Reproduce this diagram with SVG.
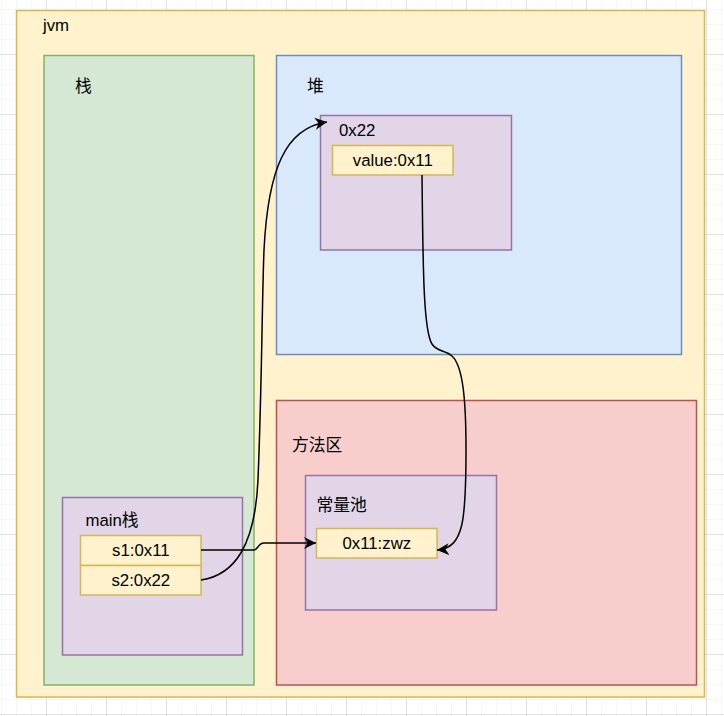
<svg xmlns="http://www.w3.org/2000/svg" width="724" height="716" viewBox="0 0 724 716">
<defs>
<pattern id="minor" x="1" y="9" width="15" height="15" patternUnits="userSpaceOnUse">
<path d="M0,0 H15 M0,0 V15" fill="none" stroke="#f0f0f0" stroke-width="1"/>
</pattern>
<pattern id="major" x="46" y="54" width="60" height="60" patternUnits="userSpaceOnUse">
<path d="M0,0 H60 M0,0 V60" fill="none" stroke="#d0d0d0" stroke-width="1"/>
</pattern>
<marker id="arr" markerUnits="userSpaceOnUse" markerWidth="13" markerHeight="13" refX="12" refY="6" orient="auto" viewBox="0 0 13 12">
<path d="M0,0 L12,6 L0,12 L3.5,6 Z" fill="#000"/>
</marker>
<style>
.t{font-family:"Liberation Sans","Noto Sans CJK SC",sans-serif;font-size:16.8px;fill:#000}
.c{text-anchor:middle}
.jvm{fill:#fff2cc;stroke:#d6b656;stroke-width:1.5}
.green{fill:#d5e8d4;stroke:#82b366;stroke-width:1.5}
.blue{fill:#dae8fc;stroke:#6c8ebf;stroke-width:1.5}
.red{fill:#f8cecc;stroke:#b85450;stroke-width:1.5}
.purple{fill:#e1d5e7;stroke:#9673a6;stroke-width:1.5}
.cell{fill:#fff2cc;stroke:#d6b656;stroke-width:1.5}
.edge{fill:none;stroke:#000;stroke-width:1.5;marker-end:url(#arr)}
</style>
</defs>
<rect width="724" height="716" fill="#fff"/>
<rect width="724" height="716" fill="url(#minor)"/>
<rect width="724" height="716" fill="url(#major)"/>

<g id="jvm">
<rect class="jvm" x="16.5" y="10.5" width="688" height="686.5"/>
<text class="t" x="43" y="31">jvm</text>
</g>
<g id="stack">
<rect class="green" x="44" y="55.5" width="210" height="629.5"/>
<text class="t" x="75" y="91.5">栈</text>
</g>
<g id="heap">
<rect class="blue" x="276.5" y="55.5" width="405" height="299"/>
<text class="t" x="307" y="91.5">堆</text>
</g>
<g id="method-area">
<rect class="red" x="276.5" y="400.5" width="420" height="284.5"/>
<text class="t" x="292" y="451">方法区</text>
</g>
<g id="obj-0x22">
<rect class="purple" x="320.5" y="115.5" width="191" height="134.5"/>
<text class="t" x="339" y="135.5">0x22</text>
</g>
<g id="value">
<rect class="cell" x="332.5" y="145.5" width="120.5" height="29.5"/>
<text class="t c" x="392.8" y="166">value:0x11</text>
</g>
<g id="const-pool">
<rect class="purple" x="305.5" y="475.5" width="191" height="134.5"/>
<text class="t" x="316.5" y="511">常量池</text>
</g>
<g id="zwz">
<rect class="cell" x="316.5" y="528.5" width="120.5" height="29.5"/>
<text class="t c" x="376.8" y="549">0x11:zwz</text>
</g>
<g id="main-stack">
<rect class="purple" x="62.5" y="497.5" width="180" height="157.5"/>
<text class="t" x="85.5" y="526">main栈</text>
</g>
<g id="s1">
<rect class="cell" x="80.5" y="535.5" width="120.5" height="30"/>
<text class="t c" x="140.8" y="556">s1:0x11</text>
</g>
<g id="s2">
<rect class="cell" x="80.5" y="565.5" width="120.5" height="29.5"/>
<text class="t c" x="140.8" y="586">s2:0x22</text>
</g>

<g id="connectors">
<path class="edge" d="M201,550 L254,550 C258,550 258,543 264,543 L316,543"/>
<path class="edge" d="M201,580 C235,575 255,545 258,480 C262,380 262,300 264,250 C268,170 285,128 327,122"/>
<path class="edge" d="M422,175 C423,260 423,330 432,344 C437,352 446,350 452,356 C463,366 466,400 466,450 C466,520 464,548 437,550"/>
</g>
</svg>
